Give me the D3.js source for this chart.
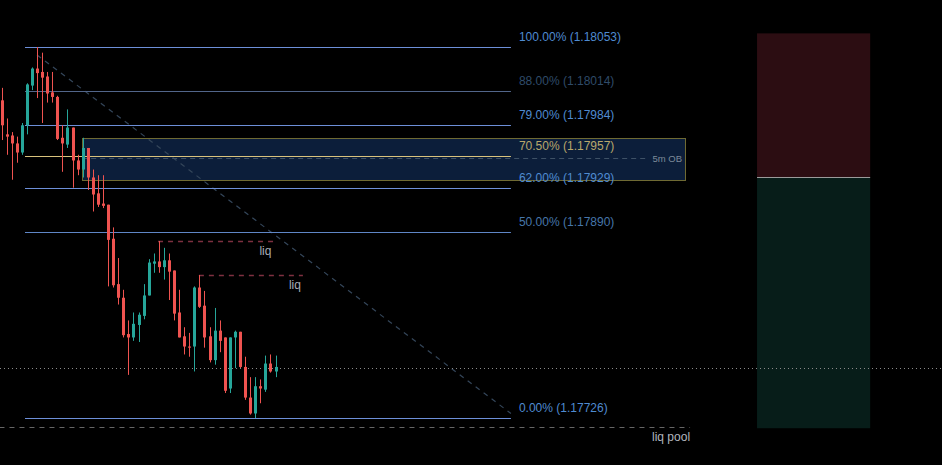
<!DOCTYPE html>
<html><head><meta charset="utf-8">
<script src="https://cdn.jsdelivr.net/npm/d3@7"></script>
<style>html,body{margin:0;padding:0;background:#000;overflow:hidden}</style>
</head><body><svg id="c" width="942" height="465"></svg>
<script>
// ---- data ----
const opens  = [1.18006,1.17976,1.17975,1.17968,1.17960,1.17984,1.18019,1.18034,1.18031,1.18027,1.18013,1.18009,1.17973,1.17967,1.17982,1.17953,1.17945,1.17964,1.17938,1.17924,1.17915,1.17914,1.17884,1.17844,1.17832,1.17800,1.17797,1.17808,1.17816,1.17834,1.17862,1.17864,1.17859,1.17865,1.17856,1.17819,1.17798,1.17789,1.17789,1.17841,1.17825,1.17798,1.17777,1.17803,1.17797,1.17752,1.17797,1.17802,1.17771,1.17744,1.17730,1.17754,1.17751,1.17774,1.17767];
const highs  = [1.18017,1.17990,1.17978,1.17974,1.17986,1.18021,1.18035,1.18053,1.18048,1.18031,1.18031,1.18010,1.17984,1.17998,1.17982,1.17958,1.17973,1.17964,1.17945,1.17940,1.17940,1.17914,1.17894,1.17867,1.17839,1.17812,1.17819,1.17819,1.17844,1.17866,1.17871,1.17882,1.17876,1.17871,1.17856,1.17839,1.17806,1.17801,1.17842,1.17852,1.17838,1.17806,1.17823,1.17812,1.17797,1.17797,1.17803,1.17802,1.17780,1.17762,1.17762,1.17760,1.17781,1.17782,1.17781];
const lows   = [1.17971,1.17958,1.17936,1.17951,1.17958,1.17976,1.18015,1.18008,1.17986,1.18004,1.18004,1.17971,1.17943,1.17964,1.17929,1.17940,1.17938,1.17927,1.17908,1.17912,1.17911,1.17842,1.17841,1.17826,1.17797,1.17764,1.17794,1.17793,1.17813,1.17834,1.17854,1.17854,1.17848,1.17830,1.17812,1.17797,1.17782,1.17780,1.17767,1.17823,1.17788,1.17775,1.17773,1.17784,1.17748,1.17748,1.17770,1.17770,1.17742,1.17729,1.17726,1.17739,1.17749,1.17766,1.17762];
const closes = [1.17984,1.17974,1.17968,1.17960,1.17984,1.18020,1.18034,1.18030,1.18026,1.18012,1.18009,1.17972,1.17968,1.17982,1.17953,1.17945,1.17964,1.17938,1.17923,1.17914,1.17913,1.17883,1.17843,1.17832,1.17799,1.17797,1.17809,1.17817,1.17834,1.17863,1.17864,1.17859,1.17865,1.17855,1.17818,1.17797,1.17789,1.17788,1.17841,1.17824,1.17797,1.17777,1.17803,1.17794,1.17750,1.17797,1.17802,1.17771,1.17744,1.17730,1.17754,1.17752,1.17774,1.17767,1.17771];

const fibRatios = ["100.00%","88.00%","79.00%","70.50%","62.00%","50.00%","0.00%"];
const fibPrices = [1.18053,1.18014,1.17984,1.17957,1.17929,1.17890,1.17726];

const obTop = 1.17973, obBottom = 1.17936, obMid = 1.17955, obLabel = "5m OB";
const liqPrices = [1.17882, 1.17852];
const liqLabel = "liq";
const lastPrice = 1.17770;
const liqPoolPrice = 1.17718, liqPoolLabel = "liq pool";
const posTop = 1.18065, posEntry = 1.17938, posBottom = 1.17717;

// ---- layout in bar-index units ----
const fibFrom = 4.63, fibTo = 100.4;
const trendFrom = [7, 1.18046], trendTo = [100.4, 1.17730];
const obFrom = 15.9, obTo = 134.7;
const liqFrom = [30.85, 38.9], liqTo = [53.6, 59.4];
const poolFrom = -0.4, poolTo = 135.7;
const posFrom = 148.9, posTo = 171.2;

const W = 942, H = 465;
const svg = d3.select("#c");
svg.append("rect").attr("width",W).attr("height",H).attr("fill","#000");

const x = d3.scaleLinear().domain([0, 54]).range([1.5, 275.5]);
const y = d3.scaleLinear().domain([1.17726, 1.18053]).range([418, 47]);
const font = "'Liberation Sans', Arial, sans-serif";

// position tool (right)
svg.append("rect").attr("x",x(posFrom)).attr("width",x(posTo)-x(posFrom))
  .attr("y",y(posTop)).attr("height",y(posEntry)-y(posTop)).attr("fill","#2c0d12");
svg.append("rect").attr("x",x(posFrom)).attr("width",x(posTo)-x(posFrom))
  .attr("y",y(posEntry)).attr("height",y(posBottom)-y(posEntry)).attr("fill","#071d19");
svg.append("line").attr("x1",x(posFrom)).attr("x2",x(posTo)).attr("y1",Math.round(y(posEntry))+0.5).attr("y2",Math.round(y(posEntry))+0.5)
  .attr("stroke","#9b9b9b").attr("stroke-width",1);

// OB box
svg.append("rect").attr("x",Math.round(x(obFrom))+0.5).attr("y",Math.round(y(obTop))+0.5)
  .attr("width",Math.round(x(obTo)-x(obFrom))).attr("height",Math.round(y(obBottom)-y(obTop)))
  .attr("fill","#0c1e3a").attr("stroke","#6f6a33").attr("stroke-width",1);

// trend diagonal
svg.append("line").attr("x1",x(trendFrom[0])).attr("y1",y(trendFrom[1]))
  .attr("x2",x(trendTo[0])).attr("y2",y(trendTo[1]))
  .attr("stroke","#34465a").attr("stroke-width",1.2).attr("stroke-dasharray","5,5");

// fib levels
const fibColors = ["#6d8fd8","#52668a","#6d8fd8","#d9c27c","#6d8fd8","#5f86c6","#6d8fd8"];
const fibText = ["#4f8bd1","#2f4b69","#4f8bd1","#b9a76b","#4f8bd1","#4676aa","#4f8bd1"];
fibPrices.forEach((p,i)=>{
  const yy = Math.round(y(p))+0.5;
  svg.append("line").attr("x1",x(fibFrom)).attr("x2",x(fibTo)).attr("y1",yy).attr("y2",yy)
    .attr("stroke",fibColors[i]).attr("stroke-width",1);
  svg.append("text").attr("x",x(fibTo)+8).attr("y",yy-7)
    .attr("fill",fibText[i]).attr("font-family",font).attr("font-size",12)
    .text(`${fibRatios[i]} (${p.toFixed(5)})`);
});

// OB midline + label
svg.append("line").attr("x1",x(obFrom)).attr("x2",x(obTo)-38).attr("y1",Math.round(y(obMid))+0.5).attr("y2",Math.round(y(obMid))+0.5)
  .attr("stroke","#3e5166").attr("stroke-width",1).attr("stroke-dasharray","5,4");
svg.append("text").attr("x",x(obTo)-3).attr("y",y(obMid)+3.5).attr("text-anchor","end")
  .attr("fill","#7d8a99").attr("font-family",font).attr("font-size",9.5).text(obLabel);

// liq lines
liqPrices.forEach((p,i)=>{
  const yy = Math.round(y(p))+0.5;
  svg.append("line").attr("x1",x(liqFrom[i])).attr("x2",x(liqTo[i])).attr("y1",yy).attr("y2",yy)
    .attr("stroke","#7e3040").attr("stroke-width",1.3).attr("stroke-dasharray","5,5");
  svg.append("text").attr("x",x(liqTo[i])-8).attr("y",yy+13).attr("text-anchor","middle")
    .attr("fill","#a9adb5").attr("font-family",font).attr("font-size",12).text(liqLabel);
});

// last price dotted
svg.append("line").attr("x1",0).attr("x2",W).attr("y1",Math.round(y(lastPrice))+0.5).attr("y2",Math.round(y(lastPrice))+0.5)
  .attr("stroke","#8a8a8a").attr("stroke-width",1).attr("stroke-dasharray","1,3");

// liq pool
svg.append("line").attr("x1",x(poolFrom)).attr("x2",x(poolTo)).attr("y1",Math.round(y(liqPoolPrice))+0.5).attr("y2",Math.round(y(liqPoolPrice))+0.5)
  .attr("stroke","#666").attr("stroke-width",1).attr("stroke-dasharray","5,5");
svg.append("text").attr("x",x(poolTo)).attr("y",y(liqPoolPrice)+14).attr("text-anchor","end")
  .attr("fill","#b2b5be").attr("font-family",font).attr("font-size",12).text(liqPoolLabel);

// candles
const candles = opens.map((o,i)=>({i,o,h:highs[i],l:lows[i],c:closes[i]}));
const g = svg.append("g");
candles.forEach(d=>{
  const col = d.c >= d.o ? "#26a69a" : "#ef5350";
  const cx = Math.round(x(d.i));
  g.append("line").attr("x1",cx+0.5).attr("x2",cx+0.5).attr("y1",y(d.h)).attr("y2",y(d.l))
    .attr("stroke",col).attr("stroke-width",1);
  const top = y(Math.max(d.o,d.c)), bot = y(Math.min(d.o,d.c));
  g.append("rect").attr("x",cx-1).attr("width",3).attr("y",top).attr("height",Math.max(1,bot-top)).attr("fill",col);
});
</script></body></html>
